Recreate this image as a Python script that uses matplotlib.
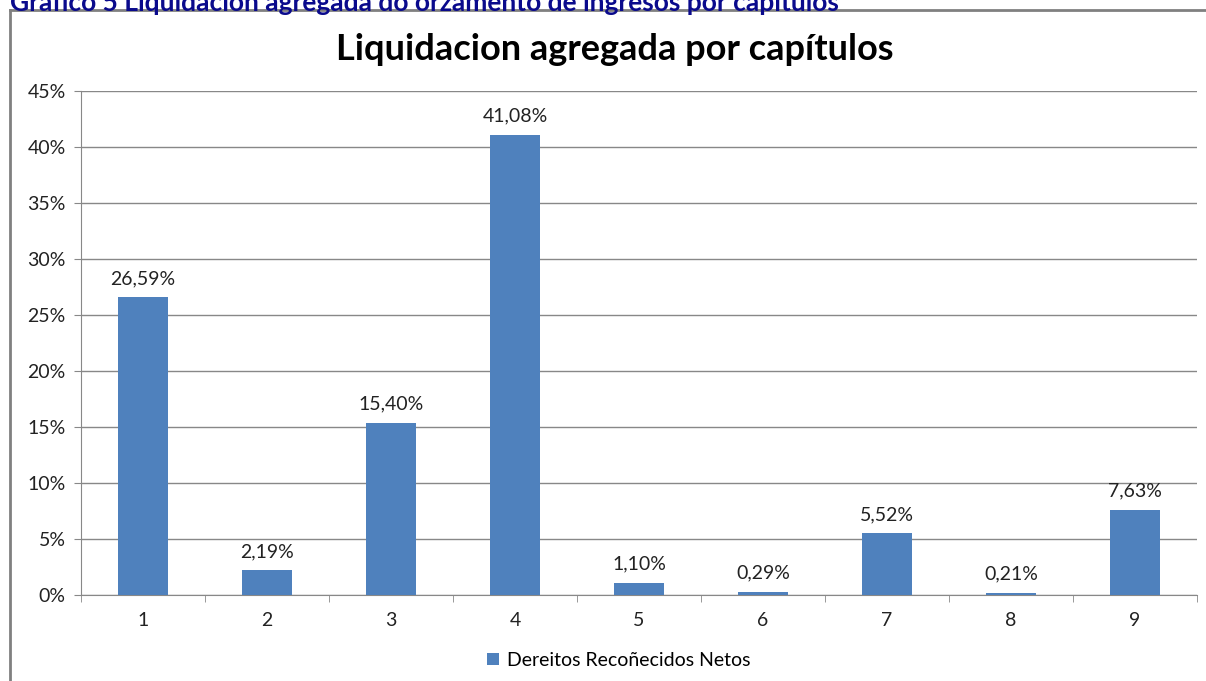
import matplotlib.pyplot as plt
from matplotlib.lines import Line2D
import numpy as np

capitulos = ["1", "2", "3", "4", "5", "6", "7", "8", "9"]
porcentaxes = [26.59, 2.19, 15.40, 41.08, 1.10, 0.29, 5.52, 0.21, 7.63]
etiquetas = ["26,59%", "2,19%", "15,40%", "41,08%", "1,10%", "0,29%", "5,52%", "0,21%", "7,63%"]
y_ticks = [0, 5, 10, 15, 20, 25, 30, 35, 40, 45]
serie = "Dereitos Recoñecidos Netos"

plt.rcParams['font.family'] = ['Lato', 'DejaVu Sans']

fig = plt.figure(figsize=(12.06, 6.81), dpi=100)
ax = fig.add_axes([0.0672, 0.1263, 0.9253, 0.7401])

x = np.arange(1, len(capitulos) + 1)
bars = ax.bar(x, porcentaxes, width=0.4, color="#4F81BD", label=serie, zorder=3)

for xi, v, lab in zip(x, porcentaxes, etiquetas):
    ax.text(xi, v + 0.9, lab, ha="center", va="bottom", fontsize=14, color="#222222")

ax.set_xlim(0.5, 9.5)
ax.set_ylim(0, 45)
ax.set_yticks(y_ticks)
ax.set_yticklabels([f"{t}%" for t in y_ticks], fontsize=14, color="#222222")
ax.set_xticks(x)
ax.set_xticklabels(capitulos, fontsize=14, color="#222222")
ax.set_xticks(np.arange(0.5, 10, 1), minor=True)
ax.tick_params(axis="x", which="major", length=0, pad=12)
ax.tick_params(axis="x", which="minor", length=5, color="#888888")
ax.tick_params(axis="y", length=5, color="#888888", pad=6)

ax.grid(axis="y", color="#888888", linewidth=1, zorder=0)
for s in ["top", "right"]:
    ax.spines[s].set_visible(False)
ax.spines["left"].set_color("#888888")
ax.spines["bottom"].set_color("#888888")

fig.text(0.51, 0.928, "Liquidacion agregada por capítulos", ha="center", va="center",
         fontsize=26, fontweight="bold", color="#000000")

fig.text(0.008, 0.995, "Gráfico 5 Liquidación agregada do orzamento de ingresos por capítulos",
         ha="left", va="center", fontsize=19, fontweight="bold", color="#0A0A8C")

# marco do gráfico
fig.add_artist(Line2D([0.0083, 1.0], [0.985, 0.985], color="#808080", linewidth=2))
fig.add_artist(Line2D([0.0083, 0.0083], [0.0, 0.985], color="#808080", linewidth=2))

ax.legend(loc="center", bbox_to_anchor=(0.482, -0.13), frameon=False, fontsize=14,
          handlelength=0.6, handleheight=0.6, handletextpad=0.4)

plt.savefig("out.png", dpi=100)
